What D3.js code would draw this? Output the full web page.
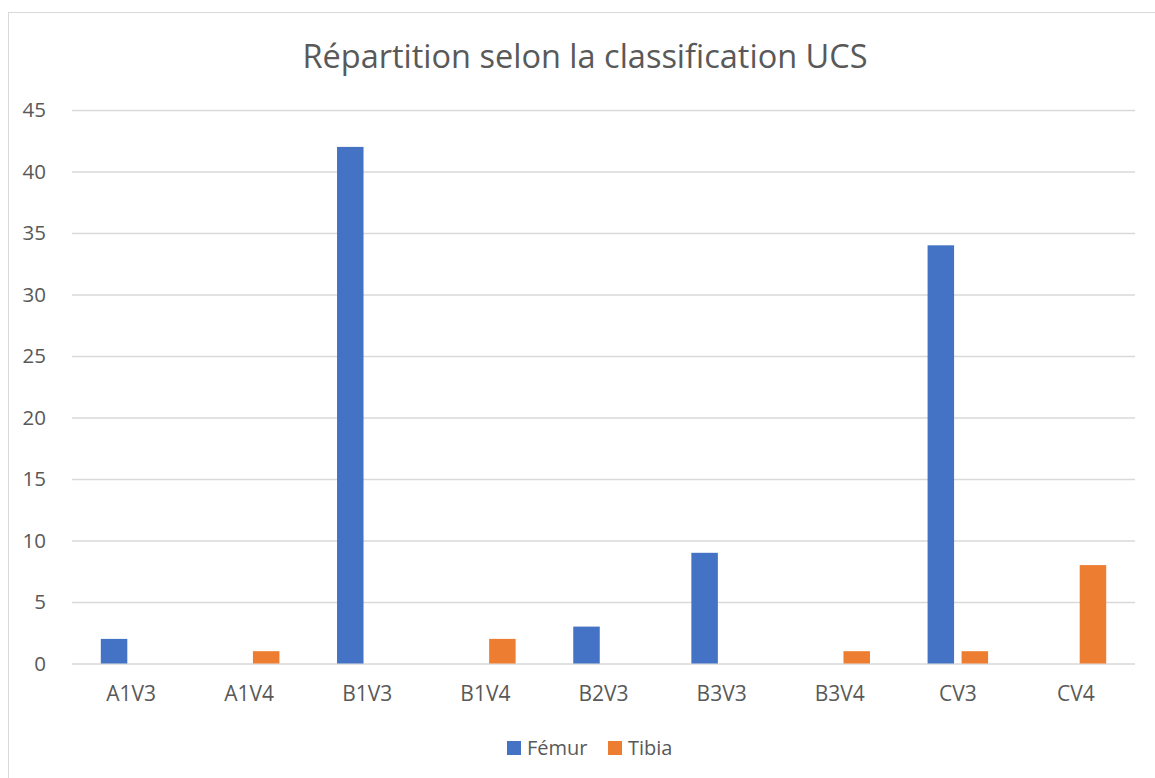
<!DOCTYPE html>
<html>
<head>
<meta charset="utf-8">
<script src="https://cdn.jsdelivr.net/npm/d3@7.9.0/dist/d3.min.js"></script>
<style>
  body { margin: 0; background: #fff; }
  text { font-family: "Open Sans", "Noto Sans", sans-serif; fill: #595959; }
</style>
</head>
<body>
<div id="chart"></div>
<script>
const categories = ['A1V3', 'A1V4', 'B1V3', 'B1V4', 'B2V3', 'B3V3', 'B3V4', 'CV3', 'CV4'];
const series = ['Fémur', 'Tibia'];
const femur = [2, 0, 42, 0, 3, 9, 0, 34, 0];
const tibia = [0, 1, 0, 2, 0, 0, 1, 1, 8];
const yTicks = [0, 5, 10, 15, 20, 25, 30, 35, 40, 45];
const colors = ['#4472C4', '#ED7D31'];
const title = 'Répartition selon la classification UCS';

const width = 1155;
const height = 778;
const margin = { top: 110, right: 20, bottom: 115, left: 72 };

const svg = d3.select('#chart')
  .append('svg')
  .attr('width', width)
  .attr('height', height);

// chart frame
svg.append('rect')
  .attr('x', 8.5).attr('y', 12.5)
  .attr('width', 1160).attr('height', 790)
  .attr('fill', 'none')
  .attr('stroke', '#d9d9d9')
  .attr('stroke-width', 1);

const xScale = d3.scaleBand()
  .domain(categories)
  .range([margin.left, width - margin.right])
  .paddingInner(0)
  .paddingOuter(0);

const yScale = d3.scaleLinear()
  .domain([0, 45])
  .range([663.5, 110]);

// gridlines
svg.append('g')
  .attr('class', 'gridlines')
  .attr('transform', `translate(${margin.left}, 0)`)
  .call(d3.axisLeft(yScale).tickValues(yTicks).tickSize(-(width - margin.right - margin.left)).tickFormat(''))
  .call(g => g.select('.domain').remove())
  .call(g => g.selectAll('line').attr('stroke', '#d9d9d9').attr('stroke-width', 1.5));

// y labels
svg.append('g')
  .attr('transform', `translate(${margin.left - 23}, 0)`)
  .call(d3.axisLeft(yScale).tickValues(yTicks).tickSize(0))
  .call(g => g.select('.domain').remove())
  .call(g => g.selectAll('text').style('font-size', '20.5px').attr('fill', '#595959'));

// x labels
svg.append('g')
  .attr('transform', `translate(0, ${yScale(0)})`)
  .call(d3.axisBottom(xScale).tickSize(0).tickPadding(23))
  .call(g => g.select('.domain').remove())
  .call(g => g.selectAll('text').style('font-size', '21px').attr('fill', '#595959'));

// bars
const barW = 26.5;
const innerGap = 7.5;
const rows = categories.map((c, i) => ({ cat: c, values: [femur[i], tibia[i]] }));

const groups = svg.append('g').attr('class', 'bars')
  .selectAll('g')
  .data(rows)
  .join('g')
  .attr('transform', d => `translate(${xScale(d.cat) + xScale.bandwidth() / 2}, 0)`);

groups.selectAll('rect')
  .data(d => d.values.map((v, j) => ({ v, j })))
  .join('rect')
  .filter(d => d.v > 0)
  .attr('x', d => d.j === 0 ? -innerGap / 2 - barW : innerGap / 2)
  .attr('y', d => yScale(d.v))
  .attr('width', barW)
  .attr('height', d => yScale(0) - yScale(d.v))
  .attr('fill', d => colors[d.j]);

// title
svg.append('text')
  .attr('x', 585)
  .attr('y', 68)
  .attr('text-anchor', 'middle')
  .style('font-size', '32.5px')
  .text(title);

// legend
const legend = svg.append('g').attr('transform', 'translate(507, 741)');
const legendX = [0, 101];
series.forEach((s, i) => {
  legend.append('rect')
    .attr('x', legendX[i]).attr('y', 0)
    .attr('width', 14).attr('height', 14)
    .attr('fill', colors[i]);
  legend.append('text')
    .attr('x', legendX[i] + 20)
    .attr('y', 14)
    .style('font-size', '20px')
    .text(s);
});
</script>
</body>
</html>
